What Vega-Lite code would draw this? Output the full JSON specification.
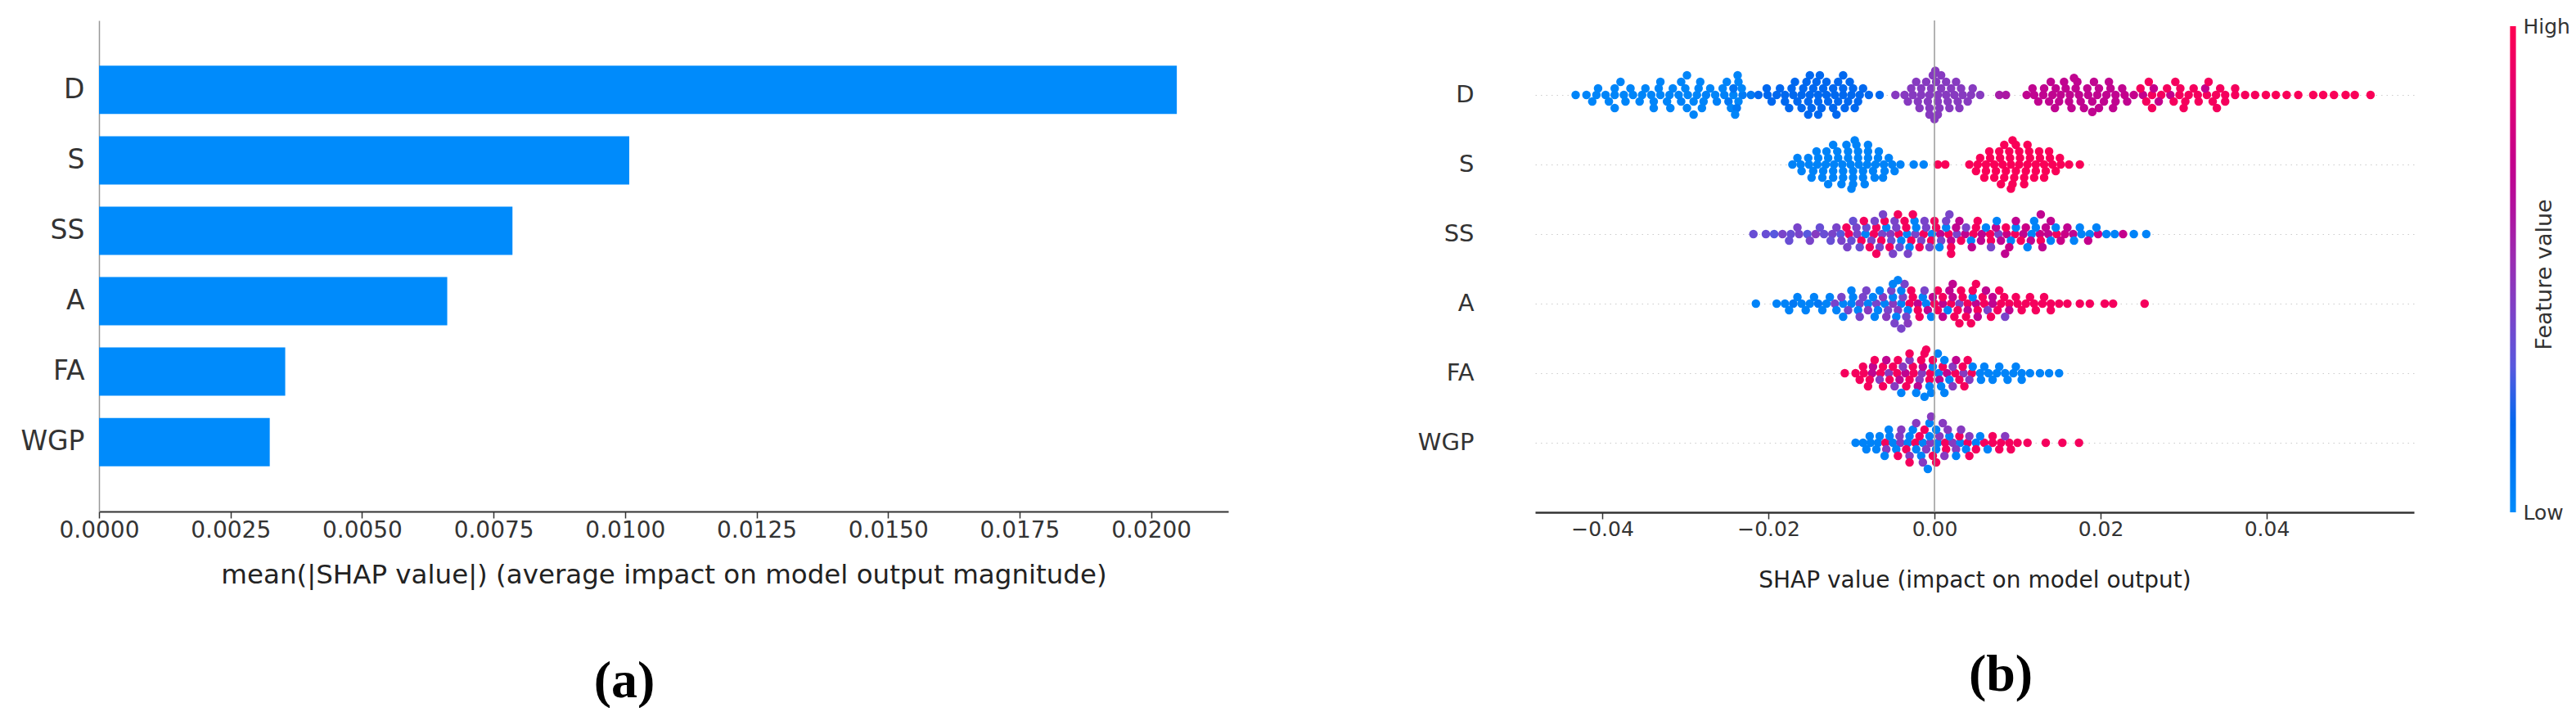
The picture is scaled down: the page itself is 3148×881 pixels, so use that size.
{
"$schema":"https://vega.github.io/schema/vega-lite/v6.json",
"background":"white",
"padding":{"left":24,"top":20,"right":0,"bottom":0},
"autosize":{"type":"pad"},
"config":{"font":"DejaVu Sans","view":{"stroke":null},"axis":{"labelFont":"DejaVu Sans","titleFont":"DejaVu Sans"}},
"datasets":{
"bars":[{"f":"D","v":0.02049},{"f":"S","v":0.01008},{"f":"SS","v":0.00786},{"f":"A","v":0.00662},{"f":"FA","v":0.00354},{"f":"WGP","v":0.003246}],
"pts":[
{"f":"D","x":-0.0432,"o":0,"c":0.03},{"f":"D","x":-0.0419,"o":0,"c":0.03},{"f":"D","x":-0.0407,"o":0,"c":0.03},{"f":"D","x":-0.0396,"o":0,"c":0.03},{"f":"D","x":-0.0385,"o":0,"c":0.03},{"f":"D","x":-0.0374,"o":0,"c":0.03},{"f":"D","x":-0.0363,"o":0,"c":0.03},{"f":"D","x":-0.0352,"o":0,"c":0.03},{"f":"D","x":-0.0341,"o":0,"c":0.03},{"f":"D","x":-0.033,"o":0,"c":0.03},{"f":"D","x":-0.0319,"o":0,"c":0.03},{"f":"D","x":-0.0308,"o":0,"c":0.03},{"f":"D","x":-0.0297,"o":0,"c":0.03},{"f":"D","x":-0.0286,"o":0,"c":0.03},{"f":"D","x":-0.0275,"o":0,"c":0.05},{"f":"D","x":-0.0264,"o":0,"c":0.03},{"f":"D","x":-0.0253,"o":0,"c":0.05},{"f":"D","x":-0.0242,"o":0,"c":0.03},{"f":"D","x":-0.0231,"o":0,"c":0.08},{"f":"D","x":-0.0221,"o":0,"c":0.1},
{"f":"D","x":-0.0412,"o":1,"c":0.03},{"f":"D","x":-0.0392,"o":1,"c":0.03},{"f":"D","x":-0.0372,"o":1,"c":0.03},{"f":"D","x":-0.0355,"o":1,"c":0.03},{"f":"D","x":-0.0338,"o":1,"c":0.03},{"f":"D","x":-0.0322,"o":1,"c":0.03},{"f":"D","x":-0.0305,"o":1,"c":0.05},{"f":"D","x":-0.029,"o":1,"c":0.03},{"f":"D","x":-0.0278,"o":1,"c":0.03},{"f":"D","x":-0.0262,"o":1,"c":0.05},{"f":"D","x":-0.0248,"o":1,"c":0.1},{"f":"D","x":-0.0236,"o":1,"c":0.03},
{"f":"D","x":-0.0405,"o":-1,"c":0.03},{"f":"D","x":-0.0385,"o":-1,"c":0.03},{"f":"D","x":-0.0366,"o":-1,"c":0.03},{"f":"D","x":-0.0348,"o":-1,"c":0.03},{"f":"D","x":-0.0332,"o":-1,"c":0.03},{"f":"D","x":-0.0315,"o":-1,"c":0.03},{"f":"D","x":-0.03,"o":-1,"c":0.03},{"f":"D","x":-0.0284,"o":-1,"c":0.03},{"f":"D","x":-0.027,"o":-1,"c":0.03},{"f":"D","x":-0.0255,"o":-1,"c":0.03},{"f":"D","x":-0.0242,"o":-1,"c":0.12},{"f":"D","x":-0.0232,"o":-1,"c":0.03},
{"f":"D","x":-0.0385,"o":2,"c":0.03},{"f":"D","x":-0.0338,"o":2,"c":0.03},{"f":"D","x":-0.0318,"o":2,"c":0.03},{"f":"D","x":-0.0298,"o":2,"c":0.03},{"f":"D","x":-0.028,"o":2,"c":0.03},{"f":"D","x":-0.0245,"o":2,"c":0.03},{"f":"D","x":-0.0238,"o":2,"c":0.1},
{"f":"D","x":-0.0378,"o":-2,"c":0.03},{"f":"D","x":-0.033,"o":-2,"c":0.03},{"f":"D","x":-0.0305,"o":-2,"c":0.03},{"f":"D","x":-0.0282,"o":-2,"c":0.03},{"f":"D","x":-0.025,"o":-2,"c":0.03},{"f":"D","x":-0.0236,"o":-2,"c":0.03},
{"f":"D","x":-0.029,"o":3,"c":0.03},{"f":"D","x":-0.024,"o":3,"c":0.03},{"f":"D","x":-0.0298,"o":-3,"c":0.03},{"f":"D","x":-0.0237,"o":-3,"c":0.03},
{"f":"D","x":-0.0212,"o":0,"c":0.18},{"f":"D","x":-0.0201,"o":0,"c":0.18},{"f":"D","x":-0.019,"o":0,"c":0.18},{"f":"D","x":-0.018,"o":0,"c":0.18},{"f":"D","x":-0.017,"o":0,"c":0.18},{"f":"D","x":-0.016,"o":0,"c":0.18},{"f":"D","x":-0.015,"o":0,"c":0.18},{"f":"D","x":-0.014,"o":0,"c":0.18},{"f":"D","x":-0.013,"o":0,"c":0.18},{"f":"D","x":-0.012,"o":0,"c":0.18},{"f":"D","x":-0.011,"o":0,"c":0.18},{"f":"D","x":-0.01,"o":0,"c":0.18},{"f":"D","x":-0.009,"o":0,"c":0.18},{"f":"D","x":-0.0079,"o":0,"c":0.18},
{"f":"D","x":-0.0196,"o":1,"c":0.18},{"f":"D","x":-0.018,"o":1,"c":0.18},{"f":"D","x":-0.0165,"o":1,"c":0.18},{"f":"D","x":-0.0152,"o":1,"c":0.18},{"f":"D","x":-0.014,"o":1,"c":0.18},{"f":"D","x":-0.0128,"o":1,"c":0.18},{"f":"D","x":-0.0116,"o":1,"c":0.18},{"f":"D","x":-0.0104,"o":1,"c":0.18},{"f":"D","x":-0.0092,"o":1,"c":0.18},
{"f":"D","x":-0.0202,"o":-1,"c":0.18},{"f":"D","x":-0.0186,"o":-1,"c":0.18},{"f":"D","x":-0.0172,"o":-1,"c":0.18},{"f":"D","x":-0.0158,"o":-1,"c":0.18},{"f":"D","x":-0.0146,"o":-1,"c":0.18},{"f":"D","x":-0.0134,"o":-1,"c":0.18},{"f":"D","x":-0.0122,"o":-1,"c":0.18},{"f":"D","x":-0.011,"o":-1,"c":0.18},{"f":"D","x":-0.0098,"o":-1,"c":0.18},{"f":"D","x":-0.0086,"o":-1,"c":0.18},
{"f":"D","x":-0.0175,"o":2,"c":0.18},{"f":"D","x":-0.016,"o":2,"c":0.18},{"f":"D","x":-0.0148,"o":2,"c":0.18},{"f":"D","x":-0.0136,"o":2,"c":0.18},{"f":"D","x":-0.0122,"o":2,"c":0.18},{"f":"D","x":-0.0108,"o":2,"c":0.18},{"f":"D","x":-0.0096,"o":2,"c":0.18},
{"f":"D","x":-0.0168,"o":-2,"c":0.18},{"f":"D","x":-0.0154,"o":-2,"c":0.18},{"f":"D","x":-0.0142,"o":-2,"c":0.18},{"f":"D","x":-0.013,"o":-2,"c":0.18},{"f":"D","x":-0.0116,"o":-2,"c":0.18},{"f":"D","x":-0.0102,"o":-2,"c":0.18},
{"f":"D","x":-0.0152,"o":3,"c":0.18},{"f":"D","x":-0.014,"o":3,"c":0.18},{"f":"D","x":-0.0118,"o":3,"c":0.18},{"f":"D","x":-0.015,"o":-3,"c":0.18},{"f":"D","x":-0.0138,"o":-3,"c":0.18},{"f":"D","x":-0.011,"o":-3,"c":0.18},{"f":"D","x":-0.0066,"o":0,"c":0.18},
{"f":"D","x":-0.0047,"o":0,"c":0.45},{"f":"D","x":-0.0036,"o":0,"c":0.45},{"f":"D","x":-0.0026,"o":0,"c":0.45},{"f":"D","x":-0.0016,"o":0,"c":0.45},{"f":"D","x":-0.0006,"o":0,"c":0.45},{"f":"D","x":0.0004,"o":0,"c":0.45},{"f":"D","x":0.0014,"o":0,"c":0.45},{"f":"D","x":0.0024,"o":0,"c":0.45},{"f":"D","x":0.0034,"o":0,"c":0.45},{"f":"D","x":0.0044,"o":0,"c":0.45},{"f":"D","x":0.0055,"o":0,"c":0.45},
{"f":"D","x":-0.0032,"o":1,"c":0.45},{"f":"D","x":-0.002,"o":1,"c":0.45},{"f":"D","x":-0.0008,"o":1,"c":0.45},{"f":"D","x":0.0004,"o":1,"c":0.45},{"f":"D","x":0.0016,"o":1,"c":0.45},{"f":"D","x":0.0028,"o":1,"c":0.45},{"f":"D","x":0.004,"o":1,"c":0.45},
{"f":"D","x":-0.0028,"o":-1,"c":0.45},{"f":"D","x":-0.0016,"o":-1,"c":0.45},{"f":"D","x":-0.0004,"o":-1,"c":0.45},{"f":"D","x":0.0008,"o":-1,"c":0.45},{"f":"D","x":0.002,"o":-1,"c":0.45},{"f":"D","x":0.0032,"o":-1,"c":0.45},{"f":"D","x":0.0046,"o":-1,"c":0.45},
{"f":"D","x":-0.0018,"o":2,"c":0.45},{"f":"D","x":-0.0006,"o":2,"c":0.45},{"f":"D","x":0.0006,"o":2,"c":0.45},{"f":"D","x":0.0018,"o":2,"c":0.45},{"f":"D","x":0.003,"o":2,"c":0.45},
{"f":"D","x":-0.0022,"o":-2,"c":0.45},{"f":"D","x":-0.001,"o":-2,"c":0.45},{"f":"D","x":0.0002,"o":-2,"c":0.45},{"f":"D","x":0.0014,"o":-2,"c":0.45},{"f":"D","x":0.0026,"o":-2,"c":0.45},
{"f":"D","x":-0.0006,"o":3,"c":0.45},{"f":"D","x":0.0004,"o":3,"c":0.45},{"f":"D","x":-0.0002,"o":-3,"c":0.45},{"f":"D","x":0.0008,"o":-3,"c":0.45},{"f":"D","x":0.0,"o":3.7,"c":0.45},{"f":"D","x":0.0001,"o":-3.7,"c":0.45},
{"f":"D","x":0.0078,"o":0,"c":0.58},{"f":"D","x":0.0086,"o":0,"c":0.6},
{"f":"D","x":0.0111,"o":0,"c":0.7},{"f":"D","x":0.012,"o":0,"c":0.7},{"f":"D","x":0.0131,"o":0,"c":0.7},{"f":"D","x":0.0142,"o":0,"c":0.7},{"f":"D","x":0.0152,"o":0,"c":0.7},{"f":"D","x":0.0163,"o":0,"c":0.7},{"f":"D","x":0.0174,"o":0,"c":0.7},{"f":"D","x":0.0185,"o":0,"c":0.7},{"f":"D","x":0.0196,"o":0,"c":0.7},{"f":"D","x":0.0207,"o":0,"c":0.7},{"f":"D","x":0.0218,"o":0,"c":0.7},{"f":"D","x":0.0229,"o":0,"c":0.72},{"f":"D","x":0.024,"o":0,"c":0.72},
{"f":"D","x":0.0125,"o":1,"c":0.7},{"f":"D","x":0.0138,"o":1,"c":0.7},{"f":"D","x":0.015,"o":1,"c":0.7},{"f":"D","x":0.0162,"o":1,"c":0.7},{"f":"D","x":0.0176,"o":1,"c":0.7},{"f":"D","x":0.019,"o":1,"c":0.7},{"f":"D","x":0.0204,"o":1,"c":0.7},{"f":"D","x":0.0218,"o":1,"c":0.7},{"f":"D","x":0.0232,"o":1,"c":0.7},
{"f":"D","x":0.0118,"o":-1,"c":0.7},{"f":"D","x":0.0132,"o":-1,"c":0.7},{"f":"D","x":0.0146,"o":-1,"c":0.7},{"f":"D","x":0.0158,"o":-1,"c":0.7},{"f":"D","x":0.017,"o":-1,"c":0.7},{"f":"D","x":0.0184,"o":-1,"c":0.7},{"f":"D","x":0.0198,"o":-1,"c":0.7},{"f":"D","x":0.0212,"o":-1,"c":0.7},{"f":"D","x":0.0226,"o":-1,"c":0.7},
{"f":"D","x":0.0145,"o":2,"c":0.7},{"f":"D","x":0.0165,"o":2,"c":0.7},{"f":"D","x":0.018,"o":2,"c":0.7},{"f":"D","x":0.0198,"o":2,"c":0.7},{"f":"D","x":0.0215,"o":2,"c":0.7},
{"f":"D","x":0.014,"o":-2,"c":0.7},{"f":"D","x":0.0156,"o":-2,"c":0.7},{"f":"D","x":0.0172,"o":-2,"c":0.7},{"f":"D","x":0.0192,"o":-2,"c":0.7},{"f":"D","x":0.021,"o":-2,"c":0.7},{"f":"D","x":0.019,"o":2.6,"c":0.7},{"f":"D","x":0.0168,"o":-2.6,"c":0.7},
{"f":"D","x":0.0251,"o":0,"c":0.72},{"f":"D","x":0.0262,"o":0,"c":0.95},{"f":"D","x":0.0273,"o":0,"c":0.95},{"f":"D","x":0.0284,"o":0,"c":0.72},{"f":"D","x":0.0295,"o":0,"c":0.95},{"f":"D","x":0.0306,"o":0,"c":0.95},{"f":"D","x":0.0317,"o":0,"c":0.95},{"f":"D","x":0.0328,"o":0,"c":0.95},{"f":"D","x":0.0339,"o":0,"c":0.95},{"f":"D","x":0.035,"o":0,"c":0.95},{"f":"D","x":0.0362,"o":0,"c":0.95},{"f":"D","x":0.0374,"o":0,"c":0.95},{"f":"D","x":0.0386,"o":0,"c":0.95},
{"f":"D","x":0.0255,"o":1,"c":0.95},{"f":"D","x":0.027,"o":1,"c":0.72},{"f":"D","x":0.0288,"o":1,"c":0.95},{"f":"D","x":0.0302,"o":1,"c":0.95},{"f":"D","x":0.0318,"o":1,"c":0.95},{"f":"D","x":0.0335,"o":1,"c":0.95},{"f":"D","x":0.035,"o":1,"c":0.95},
{"f":"D","x":0.0248,"o":-1,"c":0.95},{"f":"D","x":0.0264,"o":-1,"c":0.72},{"f":"D","x":0.028,"o":-1,"c":0.95},{"f":"D","x":0.0296,"o":-1,"c":0.95},{"f":"D","x":0.0312,"o":-1,"c":0.95},{"f":"D","x":0.0326,"o":-1,"c":0.72},{"f":"D","x":0.0344,"o":-1,"c":0.95},{"f":"D","x":0.0362,"o":-1,"c":0.95},
{"f":"D","x":0.0262,"o":2,"c":0.95},{"f":"D","x":0.03,"o":2,"c":0.95},{"f":"D","x":0.034,"o":2,"c":0.95},{"f":"D","x":0.0258,"o":-2,"c":0.95},{"f":"D","x":0.029,"o":-2,"c":0.95},{"f":"D","x":0.033,"o":-2,"c":0.95},
{"f":"D","x":0.0399,"o":0,"c":0.97},{"f":"D","x":0.0411,"o":0,"c":0.97},{"f":"D","x":0.0424,"o":0,"c":0.97},{"f":"D","x":0.0438,"o":0,"c":0.97},{"f":"D","x":0.0456,"o":0,"c":0.97},{"f":"D","x":0.0468,"o":0,"c":0.97},{"f":"D","x":0.0481,"o":0,"c":0.97},{"f":"D","x":0.0495,"o":0,"c":0.97},{"f":"D","x":0.0506,"o":0,"c":0.97},{"f":"D","x":0.0525,"o":0,"c":0.97},
{"f":"S","x":-0.0171,"o":0,"c":0.04},{"f":"S","x":-0.0161,"o":0,"c":0.04},{"f":"S","x":-0.0151,"o":0,"c":0.04},{"f":"S","x":-0.0141,"o":0,"c":0.04},{"f":"S","x":-0.0131,"o":0,"c":0.04},{"f":"S","x":-0.0121,"o":0,"c":0.04},{"f":"S","x":-0.0111,"o":0,"c":0.04},{"f":"S","x":-0.0101,"o":0,"c":0.04},{"f":"S","x":-0.0091,"o":0,"c":0.04},{"f":"S","x":-0.0081,"o":0,"c":0.04},{"f":"S","x":-0.0071,"o":0,"c":0.04},{"f":"S","x":-0.0061,"o":0,"c":0.04},{"f":"S","x":-0.0051,"o":0,"c":0.04},{"f":"S","x":-0.0041,"o":0,"c":0.04},
{"f":"S","x":-0.016,"o":1,"c":0.04},{"f":"S","x":-0.0146,"o":1,"c":0.04},{"f":"S","x":-0.0134,"o":1,"c":0.04},{"f":"S","x":-0.0122,"o":1,"c":0.04},{"f":"S","x":-0.011,"o":1,"c":0.04},{"f":"S","x":-0.0098,"o":1,"c":0.04},{"f":"S","x":-0.0086,"o":1,"c":0.04},{"f":"S","x":-0.0074,"o":1,"c":0.04},{"f":"S","x":-0.006,"o":1,"c":0.04},{"f":"S","x":-0.0048,"o":1,"c":0.04},
{"f":"S","x":-0.0165,"o":-1,"c":0.04},{"f":"S","x":-0.0152,"o":-1,"c":0.04},{"f":"S","x":-0.014,"o":-1,"c":0.04},{"f":"S","x":-0.0128,"o":-1,"c":0.04},{"f":"S","x":-0.0116,"o":-1,"c":0.04},{"f":"S","x":-0.0104,"o":-1,"c":0.04},{"f":"S","x":-0.0092,"o":-1,"c":0.04},{"f":"S","x":-0.008,"o":-1,"c":0.04},{"f":"S","x":-0.0068,"o":-1,"c":0.04},{"f":"S","x":-0.0055,"o":-1,"c":0.04},
{"f":"S","x":-0.0148,"o":2,"c":0.04},{"f":"S","x":-0.0135,"o":2,"c":0.04},{"f":"S","x":-0.0122,"o":2,"c":0.04},{"f":"S","x":-0.011,"o":2,"c":0.04},{"f":"S","x":-0.0098,"o":2,"c":0.04},{"f":"S","x":-0.0086,"o":2,"c":0.04},{"f":"S","x":-0.0072,"o":2,"c":0.04},{"f":"S","x":-0.0062,"o":2,"c":0.04},
{"f":"S","x":-0.0142,"o":-2,"c":0.04},{"f":"S","x":-0.013,"o":-2,"c":0.04},{"f":"S","x":-0.0117,"o":-2,"c":0.04},{"f":"S","x":-0.0104,"o":-2,"c":0.04},{"f":"S","x":-0.0092,"o":-2,"c":0.04},{"f":"S","x":-0.008,"o":-2,"c":0.04},{"f":"S","x":-0.0067,"o":-2,"c":0.04},
{"f":"S","x":-0.0128,"o":3,"c":0.04},{"f":"S","x":-0.0112,"o":3,"c":0.04},{"f":"S","x":-0.0098,"o":3,"c":0.04},{"f":"S","x":-0.0084,"o":3,"c":0.04},{"f":"S","x":-0.0122,"o":-3,"c":0.04},{"f":"S","x":-0.0106,"o":-3,"c":0.04},{"f":"S","x":-0.0094,"o":-3,"c":0.04},{"f":"S","x":-0.008,"o":-3,"c":0.04},{"f":"S","x":-0.01,"o":3.7,"c":0.04},{"f":"S","x":-0.0096,"o":-3.7,"c":0.04},
{"f":"S","x":-0.0025,"o":0,"c":0.04},{"f":"S","x":-0.0013,"o":0,"c":0.04},{"f":"S","x":0.0004,"o":0,"c":0.97},{"f":"S","x":0.0013,"o":0,"c":0.97},
{"f":"S","x":0.0042,"o":0,"c":0.97},{"f":"S","x":0.0052,"o":0,"c":0.97},{"f":"S","x":0.0062,"o":0,"c":0.97},{"f":"S","x":0.0072,"o":0,"c":0.97},{"f":"S","x":0.0082,"o":0,"c":0.97},{"f":"S","x":0.0092,"o":0,"c":0.97},{"f":"S","x":0.0102,"o":0,"c":0.97},{"f":"S","x":0.0112,"o":0,"c":0.97},{"f":"S","x":0.0122,"o":0,"c":0.97},{"f":"S","x":0.0132,"o":0,"c":0.97},{"f":"S","x":0.0142,"o":0,"c":0.97},{"f":"S","x":0.0152,"o":0,"c":0.97},{"f":"S","x":0.0162,"o":0,"c":0.97},{"f":"S","x":0.0175,"o":0,"c":0.97},
{"f":"S","x":0.005,"o":1,"c":0.97},{"f":"S","x":0.0062,"o":1,"c":0.97},{"f":"S","x":0.0074,"o":1,"c":0.97},{"f":"S","x":0.0086,"o":1,"c":0.97},{"f":"S","x":0.0098,"o":1,"c":0.97},{"f":"S","x":0.011,"o":1,"c":0.97},{"f":"S","x":0.0122,"o":1,"c":0.97},{"f":"S","x":0.0134,"o":1,"c":0.97},{"f":"S","x":0.0146,"o":1,"c":0.97},
{"f":"S","x":0.0055,"o":-1,"c":0.97},{"f":"S","x":0.0067,"o":-1,"c":0.97},{"f":"S","x":0.0079,"o":-1,"c":0.97},{"f":"S","x":0.0091,"o":-1,"c":0.97},{"f":"S","x":0.0103,"o":-1,"c":0.97},{"f":"S","x":0.0115,"o":-1,"c":0.97},{"f":"S","x":0.0127,"o":-1,"c":0.97},{"f":"S","x":0.0139,"o":-1,"c":0.97},{"f":"S","x":0.0151,"o":-1,"c":0.97},
{"f":"S","x":0.006,"o":2,"c":0.97},{"f":"S","x":0.0072,"o":2,"c":0.97},{"f":"S","x":0.0084,"o":2,"c":0.97},{"f":"S","x":0.0096,"o":2,"c":0.97},{"f":"S","x":0.0108,"o":2,"c":0.97},{"f":"S","x":0.012,"o":2,"c":0.97},{"f":"S","x":0.0132,"o":2,"c":0.97},
{"f":"S","x":0.0066,"o":-2,"c":0.97},{"f":"S","x":0.0078,"o":-2,"c":0.97},{"f":"S","x":0.009,"o":-2,"c":0.97},{"f":"S","x":0.0102,"o":-2,"c":0.97},{"f":"S","x":0.0114,"o":-2,"c":0.97},{"f":"S","x":0.0126,"o":-2,"c":0.97},{"f":"S","x":0.0138,"o":-2,"c":0.97},
{"f":"S","x":0.008,"o":3,"c":0.97},{"f":"S","x":0.0094,"o":3,"c":0.97},{"f":"S","x":0.0108,"o":3,"c":0.97},{"f":"S","x":0.0084,"o":-3,"c":0.97},{"f":"S","x":0.0098,"o":-3,"c":0.97},{"f":"S","x":0.0112,"o":-3,"c":0.97},{"f":"S","x":0.0092,"o":3.7,"c":0.97},{"f":"S","x":0.0094,"o":-3.7,"c":0.97},
{"f":"SS","x":-0.0218,"o":0,"c":0.35},{"f":"SS","x":-0.0203,"o":0,"c":0.35},{"f":"SS","x":-0.0193,"o":0,"c":0.3},{"f":"SS","x":-0.0183,"o":0,"c":0.4},{"f":"SS","x":-0.0173,"o":0,"c":0.35},{"f":"SS","x":-0.0163,"o":0,"c":0.4},{"f":"SS","x":-0.0153,"o":0,"c":0.3},{"f":"SS","x":-0.0143,"o":0,"c":0.45},{"f":"SS","x":-0.0133,"o":0,"c":0.35},{"f":"SS","x":-0.0123,"o":0,"c":0.4},{"f":"SS","x":-0.0113,"o":0,"c":0.3},{"f":"SS","x":-0.0103,"o":0,"c":0.95},{"f":"SS","x":-0.0093,"o":0,"c":0.4},{"f":"SS","x":-0.0083,"o":0,"c":0.04},{"f":"SS","x":-0.0073,"o":0,"c":0.95},{"f":"SS","x":-0.0063,"o":0,"c":0.4},{"f":"SS","x":-0.0053,"o":0,"c":0.45},{"f":"SS","x":-0.0043,"o":0,"c":0.95},{"f":"SS","x":-0.0033,"o":0,"c":0.04},{"f":"SS","x":-0.0023,"o":0,"c":0.4},{"f":"SS","x":-0.0013,"o":0,"c":0.95},{"f":"SS","x":-0.0003,"o":0,"c":0.04},{"f":"SS","x":0.0007,"o":0,"c":0.7},{"f":"SS","x":0.0017,"o":0,"c":0.95},{"f":"SS","x":0.0027,"o":0,"c":0.4},{"f":"SS","x":0.0037,"o":0,"c":0.7},{"f":"SS","x":0.0047,"o":0,"c":0.95},{"f":"SS","x":0.0057,"o":0,"c":0.7},{"f":"SS","x":0.0067,"o":0,"c":0.95},{"f":"SS","x":0.0077,"o":0,"c":0.4},{"f":"SS","x":0.0087,"o":0,"c":0.75},{"f":"SS","x":0.0097,"o":0,"c":0.95},{"f":"SS","x":0.0107,"o":0,"c":0.7},{"f":"SS","x":0.0117,"o":0,"c":0.04},{"f":"SS","x":0.0127,"o":0,"c":0.75},{"f":"SS","x":0.0137,"o":0,"c":0.7},{"f":"SS","x":0.0147,"o":0,"c":0.95},{"f":"SS","x":0.0157,"o":0,"c":0.75},{"f":"SS","x":0.0167,"o":0,"c":0.7},{"f":"SS","x":0.0177,"o":0,"c":0.04},{"f":"SS","x":0.0187,"o":0,"c":0.04},{"f":"SS","x":0.0197,"o":0,"c":0.75},{"f":"SS","x":0.0207,"o":0,"c":0.04},{"f":"SS","x":0.0217,"o":0,"c":0.04},{"f":"SS","x":0.0227,"o":0,"c":0.72},{"f":"SS","x":0.024,"o":0,"c":0.04},{"f":"SS","x":0.0255,"o":0,"c":0.04},
{"f":"SS","x":-0.0175,"o":1,"c":0.35},{"f":"SS","x":-0.015,"o":1,"c":0.4},{"f":"SS","x":-0.0125,"o":1,"c":0.35},{"f":"SS","x":-0.0112,"o":1,"c":0.4},{"f":"SS","x":-0.01,"o":1,"c":0.35},{"f":"SS","x":-0.0088,"o":1,"c":0.95},{"f":"SS","x":-0.0076,"o":1,"c":0.4},{"f":"SS","x":-0.0064,"o":1,"c":0.95},{"f":"SS","x":-0.0052,"o":1,"c":0.35},{"f":"SS","x":-0.004,"o":1,"c":0.04},{"f":"SS","x":-0.0028,"o":1,"c":0.95},{"f":"SS","x":-0.0016,"o":1,"c":0.4},{"f":"SS","x":-0.0004,"o":1,"c":0.95},{"f":"SS","x":0.0008,"o":1,"c":0.4},{"f":"SS","x":0.002,"o":1,"c":0.7},{"f":"SS","x":0.0032,"o":1,"c":0.95},{"f":"SS","x":0.0044,"o":1,"c":0.04},{"f":"SS","x":0.0056,"o":1,"c":0.7},{"f":"SS","x":0.0068,"o":1,"c":0.95},{"f":"SS","x":0.008,"o":1,"c":0.7},{"f":"SS","x":0.0092,"o":1,"c":0.04},{"f":"SS","x":0.0104,"o":1,"c":0.95},{"f":"SS","x":0.0116,"o":1,"c":0.7},{"f":"SS","x":0.0128,"o":1,"c":0.95},{"f":"SS","x":0.014,"o":1,"c":0.04},{"f":"SS","x":0.0152,"o":1,"c":0.75},{"f":"SS","x":0.0168,"o":1,"c":0.04},{"f":"SS","x":0.0185,"o":1,"c":0.72},
{"f":"SS","x":-0.0165,"o":-1,"c":0.4},{"f":"SS","x":-0.0138,"o":-1,"c":0.35},{"f":"SS","x":-0.0118,"o":-1,"c":0.4},{"f":"SS","x":-0.0106,"o":-1,"c":0.95},{"f":"SS","x":-0.0094,"o":-1,"c":0.4},{"f":"SS","x":-0.0082,"o":-1,"c":0.35},{"f":"SS","x":-0.007,"o":-1,"c":0.95},{"f":"SS","x":-0.0058,"o":-1,"c":0.04},{"f":"SS","x":-0.0046,"o":-1,"c":0.4},{"f":"SS","x":-0.0034,"o":-1,"c":0.95},{"f":"SS","x":-0.0022,"o":-1,"c":0.04},{"f":"SS","x":-0.001,"o":-1,"c":0.4},{"f":"SS","x":0.0002,"o":-1,"c":0.95},{"f":"SS","x":0.0014,"o":-1,"c":0.04},{"f":"SS","x":0.0026,"o":-1,"c":0.7},{"f":"SS","x":0.0038,"o":-1,"c":0.4},{"f":"SS","x":0.005,"o":-1,"c":0.95},{"f":"SS","x":0.0062,"o":-1,"c":0.04},{"f":"SS","x":0.0074,"o":-1,"c":0.7},{"f":"SS","x":0.0086,"o":-1,"c":0.95},{"f":"SS","x":0.0098,"o":-1,"c":0.04},{"f":"SS","x":0.011,"o":-1,"c":0.75},{"f":"SS","x":0.0122,"o":-1,"c":0.04},{"f":"SS","x":0.0134,"o":-1,"c":0.7},{"f":"SS","x":0.0146,"o":-1,"c":0.04},{"f":"SS","x":0.016,"o":-1,"c":0.7},{"f":"SS","x":0.0175,"o":-1,"c":0.04},{"f":"SS","x":0.0195,"o":-1,"c":0.04},
{"f":"SS","x":-0.0105,"o":2,"c":0.4},{"f":"SS","x":-0.009,"o":2,"c":0.35},{"f":"SS","x":-0.0078,"o":2,"c":0.95},{"f":"SS","x":-0.0066,"o":2,"c":0.4},{"f":"SS","x":-0.0054,"o":2,"c":0.95},{"f":"SS","x":-0.0042,"o":2,"c":0.35},{"f":"SS","x":-0.003,"o":2,"c":0.04},{"f":"SS","x":-0.0018,"o":2,"c":0.95},{"f":"SS","x":-0.0006,"o":2,"c":0.4},{"f":"SS","x":0.0006,"o":2,"c":0.04},{"f":"SS","x":0.002,"o":2,"c":0.95},{"f":"SS","x":0.0045,"o":2,"c":0.7},{"f":"SS","x":0.0068,"o":2,"c":0.4},{"f":"SS","x":0.009,"o":2,"c":0.75},{"f":"SS","x":0.0112,"o":2,"c":0.04},{"f":"SS","x":0.013,"o":2,"c":0.7},
{"f":"SS","x":-0.0098,"o":-2,"c":0.35},{"f":"SS","x":-0.0085,"o":-2,"c":0.95},{"f":"SS","x":-0.0072,"o":-2,"c":0.4},{"f":"SS","x":-0.006,"o":-2,"c":0.95},{"f":"SS","x":-0.0048,"o":-2,"c":0.4},{"f":"SS","x":-0.0036,"o":-2,"c":0.95},{"f":"SS","x":-0.0024,"o":-2,"c":0.04},{"f":"SS","x":-0.0012,"o":-2,"c":0.4},{"f":"SS","x":0.0,"o":-2,"c":0.95},{"f":"SS","x":0.0014,"o":-2,"c":0.4},{"f":"SS","x":0.003,"o":-2,"c":0.7},{"f":"SS","x":0.0052,"o":-2,"c":0.95},{"f":"SS","x":0.0075,"o":-2,"c":0.04},{"f":"SS","x":0.0098,"o":-2,"c":0.7},{"f":"SS","x":0.012,"o":-2,"c":0.04},{"f":"SS","x":0.014,"o":-2,"c":0.7},
{"f":"SS","x":-0.007,"o":3,"c":0.95},{"f":"SS","x":-0.005,"o":3,"c":0.4},{"f":"SS","x":-0.0032,"o":3,"c":0.4},{"f":"SS","x":0.002,"o":3,"c":0.95},{"f":"SS","x":0.0085,"o":3,"c":0.7},
{"f":"SS","x":-0.0062,"o":-3,"c":0.4},{"f":"SS","x":-0.0044,"o":-3,"c":0.95},{"f":"SS","x":-0.0026,"o":-3,"c":0.95},{"f":"SS","x":0.0018,"o":-3,"c":0.4},{"f":"SS","x":0.0128,"o":-3,"c":0.7},
{"f":"A","x":-0.0215,"o":0,"c":0.04},{"f":"A","x":-0.019,"o":0,"c":0.04},{"f":"A","x":-0.018,"o":0,"c":0.04},{"f":"A","x":-0.017,"o":0,"c":0.1},{"f":"A","x":-0.016,"o":0,"c":0.04},{"f":"A","x":-0.015,"o":0,"c":0.04},{"f":"A","x":-0.014,"o":0,"c":0.1},{"f":"A","x":-0.013,"o":0,"c":0.04},{"f":"A","x":-0.012,"o":0,"c":0.4},{"f":"A","x":-0.011,"o":0,"c":0.04},{"f":"A","x":-0.01,"o":0,"c":0.04},{"f":"A","x":-0.009,"o":0,"c":0.4},{"f":"A","x":-0.008,"o":0,"c":0.04},{"f":"A","x":-0.007,"o":0,"c":0.4},{"f":"A","x":-0.006,"o":0,"c":0.04},{"f":"A","x":-0.005,"o":0,"c":0.45},{"f":"A","x":-0.004,"o":0,"c":0.04},{"f":"A","x":-0.003,"o":0,"c":0.95},{"f":"A","x":-0.002,"o":0,"c":0.7},{"f":"A","x":-0.001,"o":0,"c":0.04},{"f":"A","x":0.0,"o":0,"c":0.95},{"f":"A","x":0.001,"o":0,"c":0.7},{"f":"A","x":0.002,"o":0,"c":0.95},{"f":"A","x":0.003,"o":0,"c":0.4},{"f":"A","x":0.004,"o":0,"c":0.95},{"f":"A","x":0.005,"o":0,"c":0.7},{"f":"A","x":0.006,"o":0,"c":0.95},{"f":"A","x":0.007,"o":0,"c":0.7},{"f":"A","x":0.008,"o":0,"c":0.95},{"f":"A","x":0.009,"o":0,"c":0.95},{"f":"A","x":0.01,"o":0,"c":0.95},{"f":"A","x":0.011,"o":0,"c":0.95},{"f":"A","x":0.012,"o":0,"c":0.95},{"f":"A","x":0.013,"o":0,"c":0.95},{"f":"A","x":0.014,"o":0,"c":0.95},{"f":"A","x":0.015,"o":0,"c":0.95},{"f":"A","x":0.016,"o":0,"c":0.95},{"f":"A","x":0.0175,"o":0,"c":0.95},{"f":"A","x":0.0187,"o":0,"c":0.95},{"f":"A","x":0.0205,"o":0,"c":0.95},{"f":"A","x":0.0215,"o":0,"c":0.95},{"f":"A","x":0.0253,"o":0,"c":0.95},
{"f":"A","x":-0.0175,"o":1,"c":0.04},{"f":"A","x":-0.0155,"o":1,"c":0.04},{"f":"A","x":-0.0135,"o":1,"c":0.04},{"f":"A","x":-0.0118,"o":1,"c":0.04},{"f":"A","x":-0.0104,"o":1,"c":0.4},{"f":"A","x":-0.0092,"o":1,"c":0.04},{"f":"A","x":-0.008,"o":1,"c":0.45},{"f":"A","x":-0.0068,"o":1,"c":0.04},{"f":"A","x":-0.0056,"o":1,"c":0.4},{"f":"A","x":-0.0044,"o":1,"c":0.45},{"f":"A","x":-0.0032,"o":1,"c":0.04},{"f":"A","x":-0.002,"o":1,"c":0.95},{"f":"A","x":-0.0008,"o":1,"c":0.7},{"f":"A","x":0.0004,"o":1,"c":0.95},{"f":"A","x":0.0016,"o":1,"c":0.04},{"f":"A","x":0.0028,"o":1,"c":0.95},{"f":"A","x":0.004,"o":1,"c":0.7},{"f":"A","x":0.0052,"o":1,"c":0.95},{"f":"A","x":0.0064,"o":1,"c":0.4},{"f":"A","x":0.0076,"o":1,"c":0.95},{"f":"A","x":0.009,"o":1,"c":0.7},{"f":"A","x":0.0105,"o":1,"c":0.95},{"f":"A","x":0.0122,"o":1,"c":0.95},{"f":"A","x":0.014,"o":1,"c":0.95},
{"f":"A","x":-0.0165,"o":-1,"c":0.04},{"f":"A","x":-0.0145,"o":-1,"c":0.04},{"f":"A","x":-0.0126,"o":-1,"c":0.04},{"f":"A","x":-0.0112,"o":-1,"c":0.4},{"f":"A","x":-0.0098,"o":-1,"c":0.04},{"f":"A","x":-0.0086,"o":-1,"c":0.4},{"f":"A","x":-0.0074,"o":-1,"c":0.04},{"f":"A","x":-0.0062,"o":-1,"c":0.45},{"f":"A","x":-0.005,"o":-1,"c":0.04},{"f":"A","x":-0.0038,"o":-1,"c":0.4},{"f":"A","x":-0.0026,"o":-1,"c":0.95},{"f":"A","x":-0.0014,"o":-1,"c":0.04},{"f":"A","x":-0.0002,"o":-1,"c":0.7},{"f":"A","x":0.001,"o":-1,"c":0.95},{"f":"A","x":0.0022,"o":-1,"c":0.7},{"f":"A","x":0.0034,"o":-1,"c":0.95},{"f":"A","x":0.0046,"o":-1,"c":0.04},{"f":"A","x":0.0058,"o":-1,"c":0.95},{"f":"A","x":0.007,"o":-1,"c":0.7},{"f":"A","x":0.0084,"o":-1,"c":0.95},{"f":"A","x":0.0098,"o":-1,"c":0.95},{"f":"A","x":0.0115,"o":-1,"c":0.95},{"f":"A","x":0.0132,"o":-1,"c":0.95},
{"f":"A","x":-0.011,"o":2,"c":0.04},{"f":"A","x":-0.009,"o":2,"c":0.4},{"f":"A","x":-0.0072,"o":2,"c":0.04},{"f":"A","x":-0.0058,"o":2,"c":0.45},{"f":"A","x":-0.0046,"o":2,"c":0.04},{"f":"A","x":-0.0034,"o":2,"c":0.4},{"f":"A","x":-0.0018,"o":2,"c":0.95},{"f":"A","x":-0.0004,"o":2,"c":0.04},{"f":"A","x":0.001,"o":2,"c":0.7},{"f":"A","x":0.0024,"o":2,"c":0.95},{"f":"A","x":0.0038,"o":2,"c":0.95},{"f":"A","x":0.0052,"o":2,"c":0.7},{"f":"A","x":0.0068,"o":2,"c":0.95},{"f":"A","x":0.0085,"o":2,"c":0.4},
{"f":"A","x":-0.01,"o":-2,"c":0.04},{"f":"A","x":-0.0082,"o":-2,"c":0.4},{"f":"A","x":-0.0066,"o":-2,"c":0.04},{"f":"A","x":-0.0052,"o":-2,"c":0.4},{"f":"A","x":-0.004,"o":-2,"c":0.04},{"f":"A","x":-0.0028,"o":-2,"c":0.95},{"f":"A","x":-0.0012,"o":-2,"c":0.4},{"f":"A","x":0.0004,"o":-2,"c":0.95},{"f":"A","x":0.0018,"o":-2,"c":0.7},{"f":"A","x":0.0032,"o":-2,"c":0.95},{"f":"A","x":0.0046,"o":-2,"c":0.95},{"f":"A","x":0.0062,"o":-2,"c":0.7},{"f":"A","x":0.0078,"o":-2,"c":0.95},
{"f":"A","x":-0.0048,"o":3,"c":0.4},{"f":"A","x":-0.0032,"o":3,"c":0.45},{"f":"A","x":0.003,"o":3,"c":0.95},{"f":"A","x":0.0044,"o":3,"c":0.95},{"f":"A","x":-0.005,"o":-3,"c":0.04},{"f":"A","x":-0.0036,"o":-3,"c":0.4},{"f":"A","x":0.0022,"o":-3,"c":0.7},{"f":"A","x":0.005,"o":-3,"c":0.95},{"f":"A","x":-0.004,"o":3.8,"c":0.4},{"f":"A","x":-0.0044,"o":-3.6,"c":0.04},
{"f":"FA","x":-0.0108,"o":0,"c":0.95},{"f":"FA","x":-0.0095,"o":0,"c":0.95},{"f":"FA","x":-0.0085,"o":0,"c":0.95},{"f":"FA","x":-0.0075,"o":0,"c":0.7},{"f":"FA","x":-0.0065,"o":0,"c":0.95},{"f":"FA","x":-0.0055,"o":0,"c":0.45},{"f":"FA","x":-0.0045,"o":0,"c":0.95},{"f":"FA","x":-0.0035,"o":0,"c":0.7},{"f":"FA","x":-0.0025,"o":0,"c":0.95},{"f":"FA","x":-0.0015,"o":0,"c":0.45},{"f":"FA","x":-0.0005,"o":0,"c":0.95},{"f":"FA","x":0.0005,"o":0,"c":0.04},{"f":"FA","x":0.0015,"o":0,"c":0.7},{"f":"FA","x":0.0025,"o":0,"c":0.95},{"f":"FA","x":0.0035,"o":0,"c":0.45},{"f":"FA","x":0.0045,"o":0,"c":0.95},{"f":"FA","x":0.0055,"o":0,"c":0.04},{"f":"FA","x":0.0065,"o":0,"c":0.04},{"f":"FA","x":0.0075,"o":0,"c":0.04},{"f":"FA","x":0.0085,"o":0,"c":0.04},{"f":"FA","x":0.0095,"o":0,"c":0.04},{"f":"FA","x":0.0105,"o":0,"c":0.04},{"f":"FA","x":0.0115,"o":0,"c":0.04},{"f":"FA","x":0.0127,"o":0,"c":0.04},{"f":"FA","x":0.0138,"o":0,"c":0.04},{"f":"FA","x":0.015,"o":0,"c":0.04},
{"f":"FA","x":-0.009,"o":1,"c":0.95},{"f":"FA","x":-0.0078,"o":1,"c":0.95},{"f":"FA","x":-0.0066,"o":1,"c":0.45},{"f":"FA","x":-0.0054,"o":1,"c":0.95},{"f":"FA","x":-0.0042,"o":1,"c":0.7},{"f":"FA","x":-0.003,"o":1,"c":0.95},{"f":"FA","x":-0.0018,"o":1,"c":0.45},{"f":"FA","x":-0.0006,"o":1,"c":0.95},{"f":"FA","x":0.0006,"o":1,"c":0.7},{"f":"FA","x":0.0018,"o":1,"c":0.04},{"f":"FA","x":0.003,"o":1,"c":0.95},{"f":"FA","x":0.0042,"o":1,"c":0.45},{"f":"FA","x":0.0056,"o":1,"c":0.04},{"f":"FA","x":0.007,"o":1,"c":0.04},{"f":"FA","x":0.0088,"o":1,"c":0.04},{"f":"FA","x":0.0105,"o":1,"c":0.04},
{"f":"FA","x":-0.0086,"o":-1,"c":0.95},{"f":"FA","x":-0.0074,"o":-1,"c":0.7},{"f":"FA","x":-0.0062,"o":-1,"c":0.95},{"f":"FA","x":-0.005,"o":-1,"c":0.95},{"f":"FA","x":-0.0038,"o":-1,"c":0.45},{"f":"FA","x":-0.0026,"o":-1,"c":0.95},{"f":"FA","x":-0.0014,"o":-1,"c":0.7},{"f":"FA","x":-0.0002,"o":-1,"c":0.04},{"f":"FA","x":0.001,"o":-1,"c":0.95},{"f":"FA","x":0.0022,"o":-1,"c":0.45},{"f":"FA","x":0.0034,"o":-1,"c":0.95},{"f":"FA","x":0.0046,"o":-1,"c":0.04},{"f":"FA","x":0.006,"o":-1,"c":0.04},{"f":"FA","x":0.0078,"o":-1,"c":0.04},{"f":"FA","x":0.0098,"o":-1,"c":0.04},
{"f":"FA","x":-0.008,"o":2,"c":0.95},{"f":"FA","x":-0.0062,"o":2,"c":0.95},{"f":"FA","x":-0.0048,"o":2,"c":0.45},{"f":"FA","x":-0.0034,"o":2,"c":0.95},{"f":"FA","x":-0.002,"o":2,"c":0.7},{"f":"FA","x":-0.0006,"o":2,"c":0.04},{"f":"FA","x":0.0008,"o":2,"c":0.04},{"f":"FA","x":0.0022,"o":2,"c":0.45},{"f":"FA","x":0.0036,"o":2,"c":0.95},
{"f":"FA","x":-0.0072,"o":-2,"c":0.95},{"f":"FA","x":-0.0058,"o":-2,"c":0.7},{"f":"FA","x":-0.0044,"o":-2,"c":0.95},{"f":"FA","x":-0.003,"o":-2,"c":0.45},{"f":"FA","x":-0.0016,"o":-2,"c":0.95},{"f":"FA","x":-0.0002,"o":-2,"c":0.95},{"f":"FA","x":0.0012,"o":-2,"c":0.04},{"f":"FA","x":0.0026,"o":-2,"c":0.7},{"f":"FA","x":0.004,"o":-2,"c":0.95},
{"f":"FA","x":-0.004,"o":3,"c":0.04},{"f":"FA","x":-0.0022,"o":3,"c":0.04},{"f":"FA","x":-0.0004,"o":3,"c":0.04},{"f":"FA","x":0.0012,"o":3,"c":0.04},{"f":"FA","x":-0.003,"o":-3,"c":0.95},{"f":"FA","x":-0.0012,"o":-3,"c":0.95},{"f":"FA","x":0.0004,"o":-3,"c":0.04},{"f":"FA","x":-0.0012,"o":3.6,"c":0.04},{"f":"FA","x":-0.001,"o":-3.6,"c":0.95},
{"f":"WGP","x":-0.0095,"o":0,"c":0.04},{"f":"WGP","x":-0.0086,"o":0,"c":0.04},{"f":"WGP","x":-0.0077,"o":0,"c":0.04},{"f":"WGP","x":-0.0068,"o":0,"c":0.04},{"f":"WGP","x":-0.0059,"o":0,"c":0.95},{"f":"WGP","x":-0.005,"o":0,"c":0.04},{"f":"WGP","x":-0.0041,"o":0,"c":0.45},{"f":"WGP","x":-0.0032,"o":0,"c":0.04},{"f":"WGP","x":-0.0023,"o":0,"c":0.95},{"f":"WGP","x":-0.0014,"o":0,"c":0.04},{"f":"WGP","x":-0.0005,"o":0,"c":0.45},{"f":"WGP","x":0.0004,"o":0,"c":0.04},{"f":"WGP","x":0.0013,"o":0,"c":0.95},{"f":"WGP","x":0.0022,"o":0,"c":0.45},{"f":"WGP","x":0.0031,"o":0,"c":0.04},{"f":"WGP","x":0.004,"o":0,"c":0.95},{"f":"WGP","x":0.005,"o":0,"c":0.04},{"f":"WGP","x":0.006,"o":0,"c":0.95},{"f":"WGP","x":0.007,"o":0,"c":0.95},{"f":"WGP","x":0.008,"o":0,"c":0.95},{"f":"WGP","x":0.009,"o":0,"c":0.95},{"f":"WGP","x":0.01,"o":0,"c":0.95},{"f":"WGP","x":0.0112,"o":0,"c":0.95},{"f":"WGP","x":0.0134,"o":0,"c":0.95},{"f":"WGP","x":0.0154,"o":0,"c":0.95},{"f":"WGP","x":0.0174,"o":0,"c":0.95},
{"f":"WGP","x":-0.0082,"o":1,"c":0.04},{"f":"WGP","x":-0.007,"o":1,"c":0.04},{"f":"WGP","x":-0.0058,"o":1,"c":0.45},{"f":"WGP","x":-0.0046,"o":1,"c":0.04},{"f":"WGP","x":-0.0034,"o":1,"c":0.95},{"f":"WGP","x":-0.0022,"o":1,"c":0.04},{"f":"WGP","x":-0.001,"o":1,"c":0.45},{"f":"WGP","x":0.0002,"o":1,"c":0.04},{"f":"WGP","x":0.0014,"o":1,"c":0.95},{"f":"WGP","x":0.0026,"o":1,"c":0.45},{"f":"WGP","x":0.0038,"o":1,"c":0.04},{"f":"WGP","x":0.005,"o":1,"c":0.95},{"f":"WGP","x":0.0064,"o":1,"c":0.04},{"f":"WGP","x":0.0078,"o":1,"c":0.95},{"f":"WGP","x":0.0092,"o":1,"c":0.95},
{"f":"WGP","x":-0.0078,"o":-1,"c":0.04},{"f":"WGP","x":-0.0066,"o":-1,"c":0.04},{"f":"WGP","x":-0.0054,"o":-1,"c":0.04},{"f":"WGP","x":-0.0042,"o":-1,"c":0.45},{"f":"WGP","x":-0.003,"o":-1,"c":0.04},{"f":"WGP","x":-0.0018,"o":-1,"c":0.95},{"f":"WGP","x":-0.0006,"o":-1,"c":0.04},{"f":"WGP","x":0.0006,"o":-1,"c":0.45},{"f":"WGP","x":0.0018,"o":-1,"c":0.04},{"f":"WGP","x":0.003,"o":-1,"c":0.95},{"f":"WGP","x":0.0042,"o":-1,"c":0.45},{"f":"WGP","x":0.0055,"o":-1,"c":0.04},{"f":"WGP","x":0.007,"o":-1,"c":0.95},{"f":"WGP","x":0.0085,"o":-1,"c":0.45},
{"f":"WGP","x":-0.006,"o":2,"c":0.04},{"f":"WGP","x":-0.0044,"o":2,"c":0.95},{"f":"WGP","x":-0.003,"o":2,"c":0.45},{"f":"WGP","x":-0.0016,"o":2,"c":0.04},{"f":"WGP","x":-0.0002,"o":2,"c":0.95},{"f":"WGP","x":0.0012,"o":2,"c":0.45},{"f":"WGP","x":0.0026,"o":2,"c":0.04},{"f":"WGP","x":0.0042,"o":2,"c":0.95},
{"f":"WGP","x":-0.0055,"o":-2,"c":0.04},{"f":"WGP","x":-0.004,"o":-2,"c":0.45},{"f":"WGP","x":-0.0026,"o":-2,"c":0.04},{"f":"WGP","x":-0.0012,"o":-2,"c":0.95},{"f":"WGP","x":0.0002,"o":-2,"c":0.04},{"f":"WGP","x":0.0016,"o":-2,"c":0.45},{"f":"WGP","x":0.0032,"o":-2,"c":0.45},
{"f":"WGP","x":-0.003,"o":3,"c":0.95},{"f":"WGP","x":-0.0014,"o":3,"c":0.45},{"f":"WGP","x":0.0002,"o":3,"c":0.95},{"f":"WGP","x":-0.0022,"o":-3,"c":0.45},{"f":"WGP","x":-0.0006,"o":-3,"c":0.04},{"f":"WGP","x":0.001,"o":-3,"c":0.45},{"f":"WGP","x":-0.0008,"o":4,"c":0.04},{"f":"WGP","x":-0.0004,"o":-4,"c":0.45}
]},
"bounds":"flush",
"spacing":375,
"resolve":{"scale":{"x":"independent","y":"independent","color":"independent"},"axis":{"x":"independent","y":"independent"}},
"hconcat":[
{"width":1380,"height":600,"data":{"name":"bars"},
 "title":{"text":"(a)","orient":"bottom","anchor":"middle","dx":-48,"offset":82,"font":"Liberation Serif","fontSize":64,"fontWeight":"bold","color":"#000"},
 "mark":{"type":"bar","color":"#008bfb","size":59},
 "encoding":{
  "y":{"field":"f","type":"nominal","sort":["D","S","SS","A","FA","WGP"],"scale":{"paddingInner":0.31,"paddingOuter":0.64},
       "axis":{"title":null,"ticks":false,"tickSize":0,"labelPadding":18,"labelFontSize":33,"labelColor":"#333","domainColor":"#999","domainWidth":1.5,"grid":false}},
  "x":{"field":"v","type":"quantitative","scale":{"domain":[0,0.021468],"nice":false},
       "axis":{"title":"mean(|SHAP value|) (average impact on model output magnitude)","values":[0,0.0025,0.005,0.0075,0.01,0.0125,0.015,0.0175,0.02],"format":".4f","labelFlush":false,"labelOverlap":false,"labelFontSize":28,"labelColor":"#333","tickColor":"#333","tickSize":8,"tickWidth":1.5,"domainColor":"#333","domainWidth":2,"labelPadding":1,"titleFontSize":32.5,"titleFontWeight":"normal","titleColor":"#222","titlePadding":24,"grid":false}}
 }},
{"bounds":"flush","spacing":117,"resolve":{"scale":{"y":"independent","x":"independent"},"axis":{"y":"independent","x":"independent"}},"hconcat":[
 {"width":1074,"height":601,
  "title":{"text":"(b)","orient":"bottom","anchor":"middle","dx":32,"offset":70,"font":"Liberation Serif","fontSize":64,"fontWeight":"bold","color":"#000"},
  "layer":[
   {"data":{"name":"pts"},"mark":{"type":"circle","size":110,"opacity":1},
    "encoding":{
     "y":{"field":"f","type":"nominal","sort":["D","S","SS","A","FA","WGP"],"scale":{"paddingInner":0,"paddingOuter":0.5,"range":[6,601]},
          "axis":{"title":null,"ticks":false,"tickSize":0,"domain":false,"labelPadding":75,"labelFontSize":29,"labelColor":"#333","grid":true,"gridColor":"#ccc","gridDash":[1.5,5],"gridWidth":1,"bandPosition":0.5}},
     "yOffset":{"field":"o","type":"quantitative","scale":{"domain":[-5.31,5.31]}},
     "x":{"field":"x","type":"quantitative","title":"SHAP value (impact on model output)","scale":{"domain":[-0.04808,0.05773],"nice":false,"zero":false},
          "axis":{"values":[-0.04,-0.02,0,0.02,0.04],"format":".2f","labelFlush":false,"labelOverlap":false,"labelFontSize":25,"labelColor":"#333","tickColor":"#333","tickSize":8,"tickWidth":1.5,"domainColor":"#333","domainWidth":2.5,"labelPadding":0,"titleFontSize":28,"titleFontWeight":"normal","titleColor":"#222","titlePadding":36,"grid":false}},
     "color":{"field":"c","type":"quantitative","legend":null,
              "scale":{"domain":[0,0.18,0.3,0.42,0.52,0.62,0.72,0.85,1],"range":["#008bfb","#0068ef","#5858de","#7f40c6","#9a2cb2","#b0129f","#c4008c","#e00074","#ff0051"],"interpolate":"rgb"}}
    }},
   {"data":{"values":[{"z":0}]},"mark":{"type":"rule","color":"#999","strokeWidth":1.5},
    "encoding":{"x":{"field":"z","type":"quantitative","title":"SHAP value (impact on model output)"}}}
  ]},
 {"width":8,"height":601,"data":{"values":[{"lo":0,"hi":1}]},
  "mark":{"type":"bar","fill":{"gradient":"linear","x1":0,"y1":1,"x2":0,"y2":0,"stops":[{"offset":0,"color":"#008bfb"},{"offset":0.18,"color":"#0068ef"},{"offset":0.3,"color":"#5858de"},{"offset":0.42,"color":"#7f40c6"},{"offset":0.52,"color":"#9a2cb2"},{"offset":0.62,"color":"#b0129f"},{"offset":0.72,"color":"#c4008c"},{"offset":0.85,"color":"#e00074"},{"offset":1,"color":"#ff0051"}]}},
  "encoding":{
   "y":{"field":"lo","type":"quantitative","scale":{"domain":[0,1],"nice":false,"range":[601,7]},
        "axis":{"orient":"right","values":[0,1],"labelExpr":"datum.value == 1 ? 'High' : 'Low'","ticks":false,"tickSize":0,"domain":false,"grid":false,"labelPadding":8,"labelFontSize":25,"labelColor":"#333","labelOverlap":false,"title":"Feature value","titleFontSize":27,"titleFontWeight":"normal","titleColor":"#333","titleAngle":270,"titleX":34,"titleY":310,"titleAlign":"center","titleBaseline":"middle"}},
   "y2":{"field":"hi"}
  }}
]}
]
}
